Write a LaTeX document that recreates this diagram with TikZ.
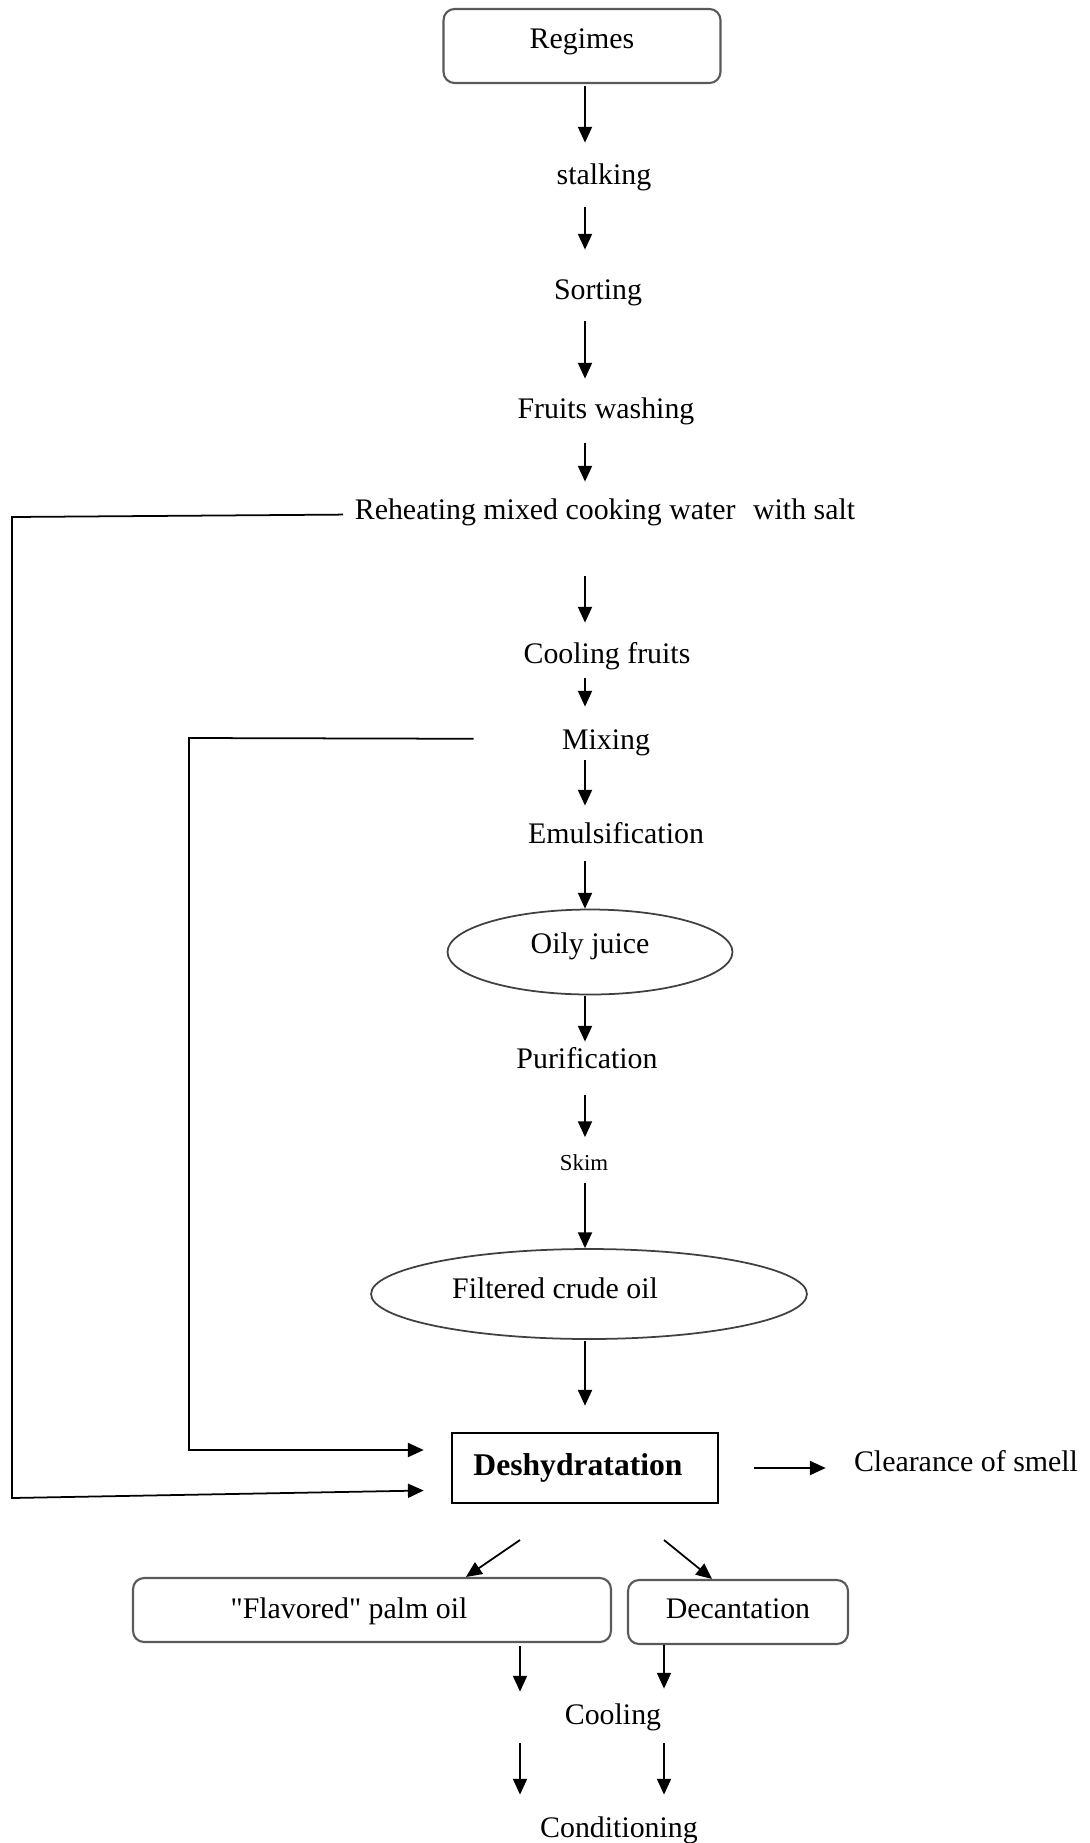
\documentclass[tikz,border=0pt]{standalone}
\usepackage{fontspec}
\setmainfont{Liberation Serif}
\usetikzlibrary{arrows.meta,shapes.geometric}
\tikzset{
	stage/.style={font=\fontsize{17}{20}\selectfont, inner sep=0pt, text height=13.7pt, text depth=2.3pt},
	flow/.style={line width=1pt, -{Triangle[length=9pt,width=8pt]}},
	roundbox/.style={draw=black!65, line width=1.2pt, rounded corners=0.22cm, inner sep=0pt},
	oval/.style={ellipse, draw=black!75, line width=1pt, inner sep=0pt},
}
\begin{document}
\begin{tikzpicture}[x=0.02cm, y=-0.02cm]
	\useasboundingbox (0,0) rectangle (1089,1843);
	\node[stage, roundbox, minimum width=5.54cm, text height=0.78cm, text depth=0.7cm] (regimes) at (582,46) {Regimes};
	\node[stage] (stalking) at (604,174) {stalking};
	\node[stage] (sorting) at (598,289) {Sorting};
	\node[stage] (washing) at (606,408) {Fruits washing};
	\node[stage] (reheat) at (605,509) {Reheating mixed cooking water\hspace{0.35cm}with salt};
	\node[stage] (coolfruits) at (607,653) {Cooling fruits};
	\node[stage] (mixing) at (606,739) {Mixing};
	\node[stage] (emuls) at (616,833) {Emulsification};
	\node[stage, oval, minimum width=5.7cm, minimum height=1.7cm, text height=12pt, text depth=10pt] (oily) at (590,952) {Oily juice};
	\node[stage] (purif) at (587,1058) {Purification};
	\node[stage, font=\fontsize{13}{15}\selectfont, text height=10.7pt, text depth=1.3pt] (skim) at (584,1162) {Skim};
	\node[stage, oval, minimum width=8.72cm, minimum height=1.8cm, text height=12pt, text depth=6.8pt] (filtered) at (589,1294) {Filtered crude oil\hspace*{1.36cm}};
	\node[stage, draw, line width=1.5pt, minimum width=5.32cm, minimum height=1.4cm, text height=12pt, text depth=4pt, font=\fontsize{18}{21}\selectfont\bfseries] (desh) at (585,1468) {Deshydratation\hspace*{0.28cm}};
	\node[stage] (clear) at (966,1461) {Clearance of smell};
	\node[stage, roundbox, minimum width=9.56cm, text height=0.8cm, text depth=0.48cm] (flav) at (372,1610) {\textquotedbl Flavored\textquotedbl{} palm oil\hspace*{0.92cm}};
	\node[stage, roundbox, minimum width=4.4cm, text height=0.76cm, text depth=0.52cm] (dec) at (738,1612) {Decantation};
	\node[stage] (cool) at (613,1714) {Cooling};
	\node[stage] (cond) at (619,1827) {Conditioning};

	\coordinate (col) at (585,0);
	\coordinate (lc) at (520,0);
	\coordinate (rc) at (664,0);
	\coordinate (fbA) at (12,517);
	\coordinate (fbB) at (12,1498);
	\coordinate (fbC) at (189,738);
	\coordinate (fbD) at (189,1450);
	\coordinate (dl) at (520,1540);
	\coordinate (dr) at (664,1540);

	\draw[flow, shorten <=0.04cm, shorten >=0.34cm] (col |- regimes.south) -- (col |- stalking.north);
	\draw[flow, shorten <=0.38cm, shorten >=0.5cm] (col |- stalking.south) -- (col |- sorting.north);
	\draw[flow, shorten <=0.36cm, shorten >=0.3cm] (col |- sorting.south) -- (col |- washing.north);
	\draw[flow, shorten <=0.42cm, shorten >=0.26cm] (col |- washing.south) -- (col |- reheat.north);
	\draw[flow, shorten <=1.06cm, shorten >=0.32cm] (col |- reheat.south) -- (col |- coolfruits.north);
	\draw[flow, shorten <=0.22cm, shorten >=0.36cm] (col |- coolfruits.south) -- (col |- mixing.north);
	\draw[flow, shorten <=0.14cm, shorten >=0.26cm] (col |- mixing.south) -- (col |- emuls.north);
	\draw[flow, shorten <=0.28cm] (col |- emuls.south) -- (col |- oily.north);
	\draw[flow, shorten <=0.02cm, shorten >=0.04cm] (col |- oily.south) -- (col |- purif.north);
	\draw[flow, shorten <=0.46cm, shorten >=0.28cm] (col |- purif.south) -- (col |- skim.north);
	\draw[flow, shorten <=0.2cm] (col |- skim.south) -- (col |- filtered.north);
	\draw[flow, shorten <=0.02cm, shorten >=0.52cm] (col |- filtered.south) -- (col |- desh.north);
	\draw[flow, shorten <=0.7cm, shorten >=0.56cm] (desh.east) -- (desh.east -| clear.west);

	\draw[flow, shorten <=0.23cm, shorten >=0.54cm] ([yshift=-0.11cm]reheat.west) -- (fbA) -- (fbB) -- ([yshift=-0.44cm]desh.west);
	\draw[flow, shorten <=1.76cm, shorten >=0.54cm] (mixing.west) -- (fbC) -- (fbD) -- ([yshift=0.36cm]desh.west);

	\draw[flow] (dl) -- ([xshift=1.88cm]flav.north);
	\draw[flow] (dr) -- ([xshift=-0.52cm]dec.north);
	\draw[flow, shorten <=0.06cm, shorten >=0.16cm] (lc |- flav.south) -- (lc |- cool.north);
	\draw[flow, shorten >=0.22cm] (rc |- dec.south) -- (rc |- cool.north);
	\draw[flow, shorten <=0.3cm, shorten >=0.36cm] (lc |- cool.south) -- (lc |- cond.north);
	\draw[flow, shorten <=0.3cm, shorten >=0.36cm] (rc |- cool.south) -- (rc |- cond.north);
\end{tikzpicture}
\end{document}
